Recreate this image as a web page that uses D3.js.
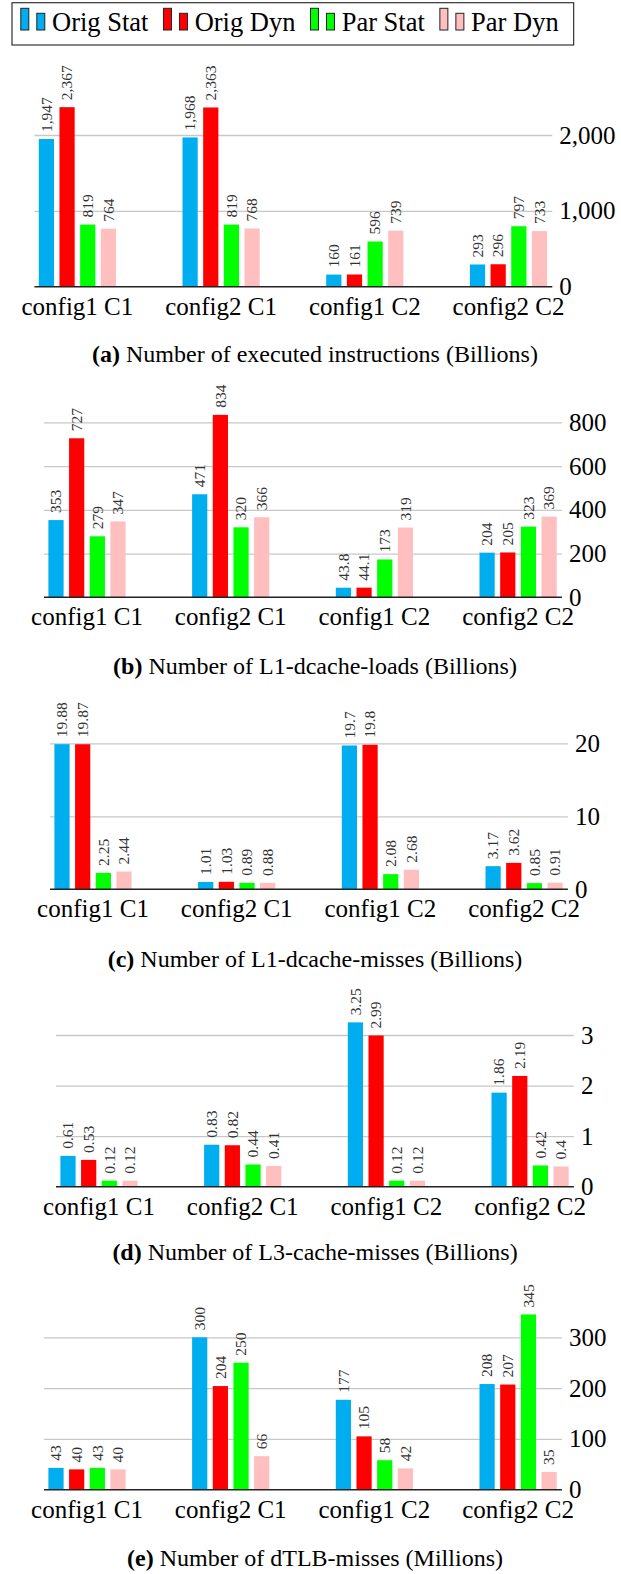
<!DOCTYPE html>
<html>
<head>
<meta charset="utf-8">
<script src="https://cdn.jsdelivr.net/npm/d3@7"></script>
<style>
  html, body { margin: 0; padding: 0; background: #fff; }
  svg text { font-family: "Liberation Serif", "Times New Roman", serif; }
</style>
</head>
<body>
<svg id="chart" width="621" height="1574"></svg>
<script>
// ---------------- DATA ----------------
const categories = ["config1 C1", "config2 C1", "config1 C2", "config2 C2"];
const seriesNames = ["Orig Stat", "Orig Dyn", "Par Stat", "Par Dyn"];
const seriesColors = ["#00AEEF", "#FF0000", "#00FF00", "#FFBFBF"];

// (a) executed instructions (Billions) — series order: Orig Stat, Orig Dyn, Par Stat, Par Dyn
const instrValues = [[1947, 1968, 160, 293], [2367, 2363, 161, 296], [819, 819, 596, 797], [764, 768, 739, 733]];
const instrTicks = [0, 1000, 2000];
// (b) L1-dcache-loads (Billions)
const loadsValues = [[353, 471, 43.8, 204], [727, 834, 44.1, 205], [279, 320, 173, 323], [347, 366, 319, 369]];
const loadsTicks = [0, 200, 400, 600, 800];
// (c) L1-dcache-misses (Billions)
const l1missValues = [[19.88, 1.01, 19.7, 3.17], [19.87, 1.03, 19.8, 3.62], [2.25, 0.89, 2.08, 0.85], [2.44, 0.88, 2.68, 0.91]];
const l1missTicks = [0, 10, 20];
// (d) L3-cache-misses (Billions)
const l3missValues = [[0.61, 0.83, 3.25, 1.86], [0.53, 0.82, 2.99, 2.19], [0.12, 0.44, 0.12, 0.42], [0.12, 0.41, 0.12, 0.4]];
const l3missTicks = [0, 1, 2, 3];
// (e) dTLB-misses (Millions)
const tlbValues = [[43, 300, 177, 208], [40, 204, 105, 207], [43, 250, 58, 345], [40, 66, 42, 35]];
const tlbTicks = [0, 100, 200, 300];

const captionTags = ["(a)", "(b)", "(c)", "(d)", "(e)"];
const captionTexts = [
  "Number of executed instructions (Billions)",
  "Number of L1-dcache-loads (Billions)",
  "Number of L1-dcache-misses (Billions)",
  "Number of L3-cache-misses (Billions)",
  "Number of dTLB-misses (Millions)"
];

// ---------------- LAYOUT ----------------
const svg = d3.select("#chart");
const commaFmt = d3.format(",");
const plainFmt = v => String(v);

const panels = [
  { values: instrValues, ticks: instrTicks, fmt: commaFmt, left: 38.8, base: 286.7, top: 135, cap: 362 },
  { values: loadsValues, ticks: loadsTicks, fmt: plainFmt, left: 48.4, base: 597.3, top: 422.3, cap: 674 },
  { values: l1missValues, ticks: l1missTicks, fmt: plainFmt, left: 54.4, base: 889.3, top: 743.3, cap: 967 },
  { values: l3missValues, ticks: l3missTicks, fmt: plainFmt, left: 60.4, base: 1186.7, top: 1035, cap: 1260 },
  { values: tlbValues, ticks: tlbTicks, fmt: plainFmt, left: 48.4, base: 1489.7, top: 1337.3, cap: 1566 }
];

const groupStep = 143.7;
const barStep = 20.67;
const barW = 15.2;
const groupW = 3 * barStep + barW;

panels.forEach((p, pi) => {
  const g = svg.append("g");
  const x0 = d3.scaleBand().domain(categories).range([p.left, p.left + 4 * groupStep]).paddingInner(0).paddingOuter(0);
  const x1 = d3.scaleBand().domain(seriesNames).range([0, groupW]).paddingInner(1 - barW / barStep).paddingOuter(0);
  const maxTick = p.ticks[p.ticks.length - 1];
  const y = d3.scaleLinear().domain([0, maxTick]).range([p.base, p.top]);

  const axL = p.left - 4.4;
  const axR = p.left + 3 * groupStep + groupW + 5.2;

  // gridlines + tick labels via axisRight
  const axis = d3.axisRight(y).tickValues(p.ticks).tickFormat(p.fmt)
    .tickSize(-(axR - axL)).tickPadding(7);
  const ag = g.append("g").attr("transform", `translate(${axR},0)`).call(axis);
  ag.select(".domain").remove();
  ag.selectAll(".tick line").attr("stroke", "#c8c8c8").attr("stroke-width", 1.3)
    .filter(d => d === 0).remove();
  ag.selectAll(".tick text").attr("fill", "#000").attr("font-size", 25)
    .attr("font-family", "Liberation Serif");

  // bars
  p.values.forEach((vals, si) => {
    g.selectAll(null).data(vals).join("rect")
      .attr("x", (d, i) => x0(categories[i]) + x1(seriesNames[si]))
      .attr("y", d => y(d))
      .attr("width", x1.bandwidth())
      .attr("height", d => y(0) - y(d))
      .attr("fill", seriesColors[si]);
    g.selectAll(null).data(vals).join("text")
      .attr("transform", (d, i) => `translate(${x0(categories[i]) + x1(seriesNames[si]) + x1.bandwidth() / 2},${y(d) - 7}) rotate(-90)`)
      .attr("dy", "0.34em")
      .attr("font-size", 15.5)
      .attr("fill", "#333")
      .text(d => p.fmt(d));
  });

  // baseline
  g.append("line").attr("x1", axL).attr("x2", axR).attr("y1", y(0)).attr("y2", y(0))
    .attr("stroke", "#222").attr("stroke-width", 1.6);

  // category labels
  g.selectAll(null).data(categories).join("text")
    .attr("x", d => x0(d) + groupW / 2)
    .attr("y", p.base + 28)
    .attr("text-anchor", "middle")
    .attr("font-size", 25)
    .text(d => d);

  // caption
  const ct = g.append("text").attr("x", 315).attr("y", p.cap).attr("text-anchor", "middle").attr("font-size", 24);
  ct.append("tspan").attr("font-weight", "bold").text(captionTags[pi]);
  ct.append("tspan").text(" " + captionTexts[pi]);
});

// ---------------- LEGEND ----------------
const lg = svg.append("g");
const box = lg.append("rect").attr("x", 12).attr("y", 2.7).attr("height", 42.3)
  .attr("fill", "#fff").attr("stroke", "#333").attr("stroke-width", 1.2);
let cx = 20.8;
seriesNames.forEach((name, i) => {
  lg.append("rect").attr("x", cx).attr("y", 8.3).attr("width", 8).attr("height", 21.7)
    .attr("fill", seriesColors[i]).attr("stroke", "#222").attr("stroke-width", 1);
  lg.append("rect").attr("x", cx + 16).attr("y", 13.3).attr("width", 8).attr("height", 16.7)
    .attr("fill", seriesColors[i]).attr("stroke", "#222").attr("stroke-width", 1);
  const t = lg.append("text").attr("x", cx + 31.2).attr("y", 31).attr("font-size", 26.5).text(name);
  const w = t.node().getComputedTextLength();
  cx = cx + 31.2 + w + 15;
});
box.attr("width", cx - 12);
</script>
</body>
</html>
